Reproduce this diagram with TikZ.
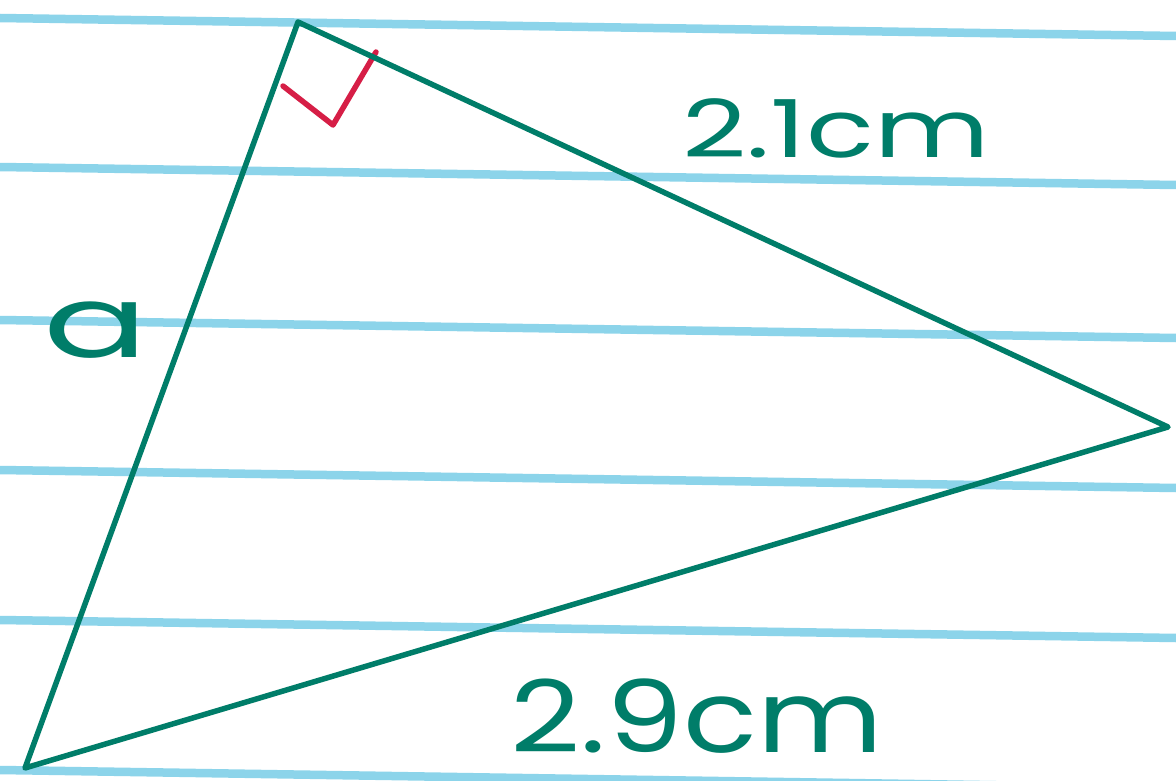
\documentclass[tikz,border=0pt]{standalone}
\usepackage{fontspec}
\setmainfont{Poppins}
\definecolor{ink}{RGB}{0,125,105}
\definecolor{redink}{RGB}{214,30,70}
\definecolor{paperblue}{RGB}{140,212,234}
\tikzset{
  paperline/.style={draw=paperblue, line width=8.5pt},
  side/.style={draw=ink, line width=5.5pt, line join=round, line cap=round},
  anglemark/.style={draw=redink, line width=5.5pt, line join=round, line cap=round},
  lbl/.style={text=ink, inner sep=0pt}
}
\begin{document}
\begin{tikzpicture}[x=1pt,y=-1pt]
\useasboundingbox (0,0) rectangle (1176,781);
\fill[white] (0,0) rectangle (1176,781);
% ruled paper lines
\foreach \yl in {18,167,320,470,620,770}{
  \draw[paperline] (0,\yl) -- (1176,\yl+18);
}
% vertices
\coordinate (A) at (298,22);
\coordinate (B) at (1168,427);
\coordinate (C) at (25,768);
% right angle mark
\coordinate (M1) at (283,86);
\coordinate (M2) at (333,125);
\coordinate (M3) at (376,52);
\draw[anglemark] (M1) -- (M2) -- (M3);
% triangle
\draw[side] (A) -- (B) -- (C) -- cycle;
% labels
\node[lbl, font=\fontsize{80}{80}\selectfont, xscale=1.4] (l21) at (836,128) {2.1cm};
\node[lbl, font=\fontsize{100}{100}\selectfont, xscale=1.55] (la) at (96,330) {a};
\node[lbl, font=\fontsize{100}{100}\selectfont, xscale=1.22] (l29) at (697,716) {2.9cm};
\end{tikzpicture}
\end{document}
